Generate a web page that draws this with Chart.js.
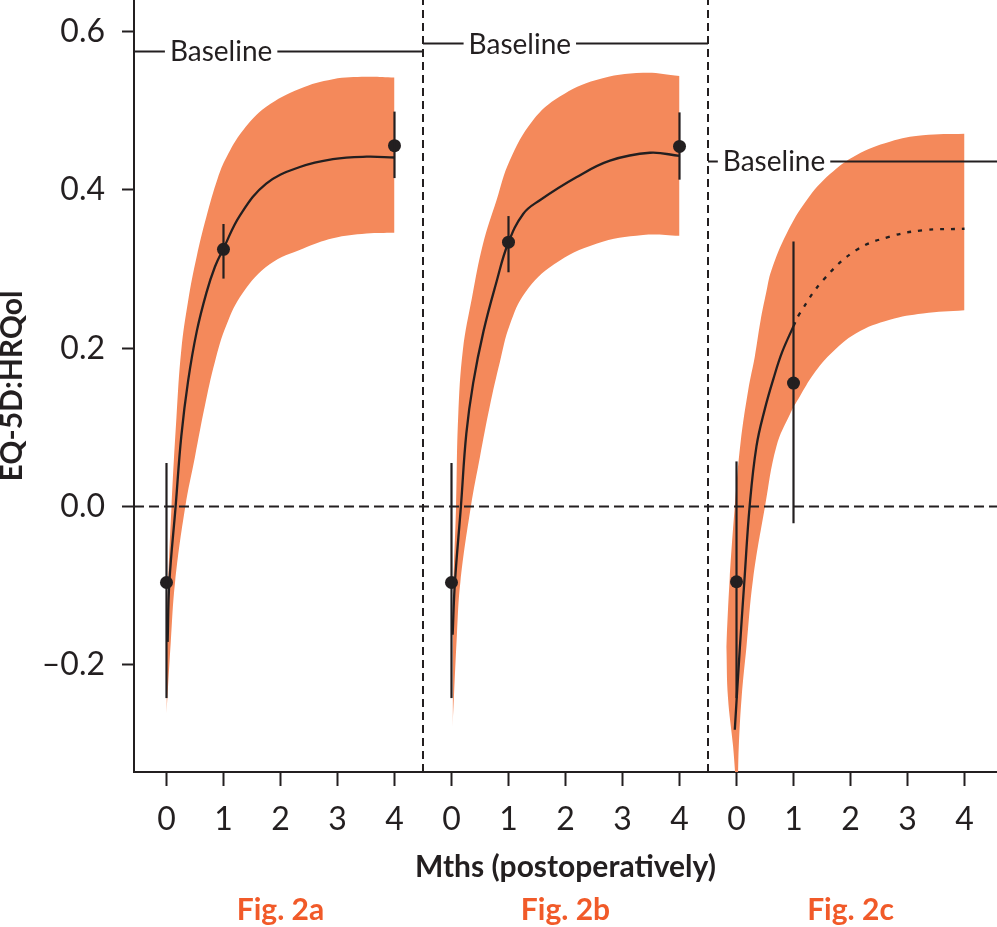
<!DOCTYPE html>
<html>
<head>
<meta charset="utf-8">
<script src="https://cdn.jsdelivr.net/npm/chart.js@4.4.0/dist/chart.umd.min.js"></script>
<style>
  body { margin: 0; background: #fff; }
  #wrap { width: 997px; height: 927px; }
</style>
</head>
<body>
<div id="wrap"><canvas id="qol" width="997" height="927"></canvas></div>
<script>
// =============================================
// EQ-5D:HRQol after surgery - Fig. 2a / 2b / 2c
// =============================================

const panelNames = ["Fig. 2a", "Fig. 2b", "Fig. 2c"];
const monthTicks = [0, 1, 2, 3, 4];
const yTicks = [-0.2, 0.0, 0.2, 0.4, 0.6];
const baselines = [0.575, 0.585, 0.436];

// observed means (dots) with error bars
const obsMonthsA = [0, 1, 4];
const obsMeanA = [-0.096, 0.325, 0.456];
const obsLowA = [-0.242, 0.288, 0.415];
const obsHighA = [0.055, 0.357, 0.499];

const obsMonthsB = [0, 1, 4];
const obsMeanB = [-0.096, 0.334, 0.455];
const obsLowB = [-0.242, 0.296, 0.413];
const obsHighB = [0.055, 0.367, 0.498];

const obsMonthsC = [0, 1];
const obsMeanC = [-0.095, 0.156];
const obsLowC = [-0.242, -0.021];
const obsHighC = [0.057, 0.335];

// fitted curves
const fitMonthsA = [0.02, 0.05, 0.16, 0.26, 0.38, 0.53, 0.70, 0.85, 1.0, 1.29, 1.75, 2.34, 2.92, 3.51, 4.0];
const fitValuesA = [-0.171, -0.096, 0.0, 0.089, 0.159, 0.221, 0.270, 0.303, 0.326, 0.368, 0.408, 0.429, 0.439, 0.442, 0.441];
const fitMonthsB = [0.02, 0.06, 0.165, 0.26, 0.38, 0.56, 0.79, 0.99, 1.26, 1.55, 2.19, 2.78, 3.48, 4.0];
const fitValuesB = [-0.162, -0.096, 0.0, 0.092, 0.156, 0.221, 0.284, 0.332, 0.370, 0.387, 0.416, 0.437, 0.447, 0.443];
const fitMonthsC = [-0.03, 0.06, 0.14, 0.23, 0.35, 0.50, 0.65, 0.80, 1.0];
const fitValuesC = [-0.282, -0.177, -0.092, 0.0, 0.076, 0.124, 0.162, 0.195, 0.228];
// projected part of curve c (dotted)
const projMonthsC = [1.0, 1.11, 1.52, 2.10, 2.69, 3.27, 4.0];
const projValuesC = [0.228, 0.244, 0.286, 0.324, 0.341, 0.349, 0.351];

// confidence bands (upper / lower edge)
const bandHiMonthsA = [0.0, 0.002, 0.03, 0.088, 0.175, 0.26, 0.38, 0.53, 0.70, 0.90, 1.05, 1.34, 1.75, 2.34, 2.92, 3.51, 4.0];
const bandHiValuesA = [-0.261, -0.171, -0.096, 0.0, 0.113, 0.198, 0.260, 0.316, 0.366, 0.415, 0.441, 0.475, 0.505, 0.528, 0.540, 0.543, 0.542];
const bandLoMonthsA = [0.0, 0.075, 0.15, 0.33, 0.50, 0.67, 0.85, 1.05, 1.34, 1.81, 2.40, 2.92, 3.51, 4.0];
const bandLoValuesA = [-0.261, -0.171, -0.096, 0.0, 0.063, 0.126, 0.183, 0.229, 0.270, 0.306, 0.326, 0.339, 0.345, 0.346];

const bandHiMonthsB = [0.02, 0.022, 0.035, 0.08, 0.117, 0.20, 0.36, 0.55, 0.79, 1.02, 1.43, 1.90, 2.54, 3.36, 4.0];
const bandHiValuesB = [-0.278, -0.162, -0.096, 0.0, 0.113, 0.198, 0.264, 0.331, 0.387, 0.437, 0.488, 0.518, 0.539, 0.548, 0.544];
const bandLoMonthsB = [0.02, 0.095, 0.155, 0.34, 0.50, 0.67, 0.85, 1.02, 1.30, 1.80, 2.54, 3.36, 4.0];
const bandLoValuesB = [-0.278, -0.162, -0.096, 0.0, 0.063, 0.126, 0.183, 0.229, 0.271, 0.306, 0.332, 0.343, 0.342];

const bandHiMonthsC = [-0.18, -0.12, -0.03, 0.07, 0.21, 0.32, 0.42, 0.52, 0.61, 0.88, 1.23, 1.64, 2.10, 2.69, 3.27, 4.0];
const bandHiValuesC = [-0.177, -0.092, 0.0, 0.080, 0.149, 0.189, 0.234, 0.270, 0.298, 0.345, 0.387, 0.420, 0.444, 0.461, 0.469, 0.471];
const bandLoMonthsC = [-0.18, -0.15, -0.06, 0.01, 0.04, 0.09, 0.175, 0.29, 0.50, 0.70, 0.94, 1.11, 1.35, 1.64, 2.10, 2.69, 3.27, 4.0];
const bandLoValuesC = [-0.177, -0.241, -0.303, -0.36, -0.303, -0.241, -0.177, -0.092, 0.0, 0.076, 0.117, 0.139, 0.167, 0.192, 0.219, 0.236, 0.244, 0.248];

// --- layout / style ---
const PANEL_GAP = 5;            // each panel shifted 5 months along the shared x axis
const X_MIN = -0.57, X_MAX = 14.57;
const Y_MIN = -0.3354, Y_MAX = 0.640;
const baselineLabelAt = [0.06, 0.30, -0.24];
const INK = "#231f20";
const BAND = "#f4895b";
const FIG = "#f15a29";
const FONT = "Lato";
const SMOOTH = 0.4;

const pts = (ms, vs, off) => ms.map((m, i) => ({ x: m + off, y: vs[i] }));

const datasets = [];

function addBand(hiM, hiV, loM, loV, off) {
  datasets.push({
    data: pts(hiM, hiV, off), borderWidth: 0, backgroundColor: BAND,
    fill: "+1", tension: SMOOTH, order: 10,
  });
  datasets.push({
    data: pts(loM, loV, off), borderWidth: 0, fill: false,
    tension: SMOOTH, order: 10,
  });
}

function addCurve(ms, vs, off, dash) {
  datasets.push({
    data: pts(ms, vs, off), borderColor: INK, borderWidth: 2.3,
    borderDash: dash || [], tension: SMOOTH, fill: false,
  });
}

function addObs(ms, mean, lo, hi, off) {
  ms.forEach((m, i) => {
    datasets.push({
      data: [{ x: m + off, y: lo[i] }, { x: m + off, y: hi[i] }],
      borderColor: INK, borderWidth: 2.2, fill: false,
    });
  });
  datasets.push({
    data: pts(ms, mean, off), showLine: false, pointRadius: 6.5,
    pointBackgroundColor: INK, pointBorderWidth: 0,
  });
}

addBand(bandHiMonthsA, bandHiValuesA, bandLoMonthsA, bandLoValuesA, 0);
addBand(bandHiMonthsB, bandHiValuesB, bandLoMonthsB, bandLoValuesB, PANEL_GAP);
addBand(bandHiMonthsC, bandHiValuesC, bandLoMonthsC, bandLoValuesC, 2 * PANEL_GAP);

addCurve(fitMonthsA, fitValuesA, 0);
addCurve(fitMonthsB, fitValuesB, PANEL_GAP);
addCurve(fitMonthsC, fitValuesC, 2 * PANEL_GAP);
addCurve(projMonthsC, projValuesC, 2 * PANEL_GAP, [4, 7]);

addObs(obsMonthsA, obsMeanA, obsLowA, obsHighA, 0);
addObs(obsMonthsB, obsMeanB, obsLowB, obsHighB, PANEL_GAP);
addObs(obsMonthsC, obsMeanC, obsLowC, obsHighC, 2 * PANEL_GAP);

// zero line + panel dividers
datasets.push({
  data: [{ x: X_MIN, y: 0 }, { x: X_MAX, y: 0 }],
  borderColor: INK, borderWidth: 2, borderDash: [10, 5], fill: false,
});
[1, 2].forEach((p) => {
  const xd = p * PANEL_GAP - 0.5;
  datasets.push({
    data: [{ x: xd, y: Y_MIN }, { x: xd, y: Y_MAX }],
    borderColor: INK, borderWidth: 2, borderDash: [8, 5], fill: false,
  });
});

// baseline lines (one per panel, between dividers)
baselines.forEach((b, i) => {
  const x0 = i === 0 ? X_MIN : i * PANEL_GAP - 0.5;
  const x1 = i === 2 ? X_MAX : (i + 1) * PANEL_GAP - 0.5;
  datasets.push({
    data: [{ x: x0, y: b }, { x: x1, y: b }],
    borderColor: INK, borderWidth: 2, fill: false,
  });
});

// --- "Baseline" labels and figure names ---
const panelText = {
  id: "panelText",
  afterDraw(chart) {
    const { ctx, scales: { x, y } } = chart;
    ctx.save();
    ctx.font = "28px " + FONT;
    ctx.textBaseline = "alphabetic";
    baselines.forEach((b, i) => {
      const px = x.getPixelForValue(i * PANEL_GAP + baselineLabelAt[i]);
      const py = y.getPixelForValue(b);
      const w = ctx.measureText("Baseline").width;
      ctx.fillStyle = "#fff";
      ctx.fillRect(px - 5, py - 4, w + 10, 8);
      ctx.fillStyle = INK;
      ctx.fillText("Baseline", px, py + 10);
    });
    ctx.font = "bold 30px " + FONT;
    ctx.fillStyle = FIG;
    ctx.textAlign = "center";
    panelNames.forEach((n, i) => {
      ctx.fillText(n, x.getPixelForValue(i * PANEL_GAP + 2), chart.height - 7);
    });
    ctx.restore();
  },
};

const xTickValues = [0, 1, 2].flatMap((p) => monthTicks.map((m) => m + p * PANEL_GAP));

new Chart(document.getElementById("qol"), {
  type: "line",
  data: { datasets },
  options: {
    responsive: false,
    animation: false,
    layout: { padding: 0, autoPadding: false },
    elements: { point: { radius: 0 }, line: { tension: 0 } },
    plugins: { legend: { display: false }, tooltip: { enabled: false } },
    scales: {
      x: {
        type: "linear",
        min: X_MIN,
        max: X_MAX,
        afterBuildTicks: (s) => { s.ticks = xTickValues.map((v) => ({ value: v })); },
        afterFit: (s) => { s.height = 155; s.paddingLeft = 0; s.paddingRight = 0; },
        ticks: {
          padding: 14,
          color: INK,
          font: { family: FONT, size: 32 },
          callback: (v) => String(v % PANEL_GAP),
        },
        grid: { drawOnChartArea: false, tickLength: 14, tickColor: INK, tickWidth: 2 },
        border: { color: INK, width: 2 },
        title: {
          display: true,
          text: "Mths (postoperatively)",
          color: INK,
          font: { family: FONT, size: 30, weight: "bold" },
          padding: { top: 0, bottom: 42 },
        },
      },
      y: {
        min: Y_MIN,
        max: Y_MAX,
        afterBuildTicks: (s) => { s.ticks = yTicks.map((v) => ({ value: v })); },
        afterFit: (s) => { s.width = 134; s.paddingTop = 0; s.paddingBottom = 0; },
        ticks: {
          padding: 17,
          color: INK,
          font: { family: FONT, size: 32 },
          callback: (v) => (v < 0 ? "\u2013" : "") + Math.abs(v).toFixed(1),
        },
        grid: { drawOnChartArea: false, tickLength: 12, tickColor: INK, tickWidth: 2 },
        border: { color: INK, width: 2 },
        title: {
          display: true,
          text: "EQ-5D:HRQol",
          color: INK,
          font: { family: FONT, size: 30, weight: "bold", lineHeight: 0.8 },
          padding: { top: 0, bottom: 0 },
        },
      },
    },
  },
  plugins: [panelText],
});
</script>
</body>
</html>
